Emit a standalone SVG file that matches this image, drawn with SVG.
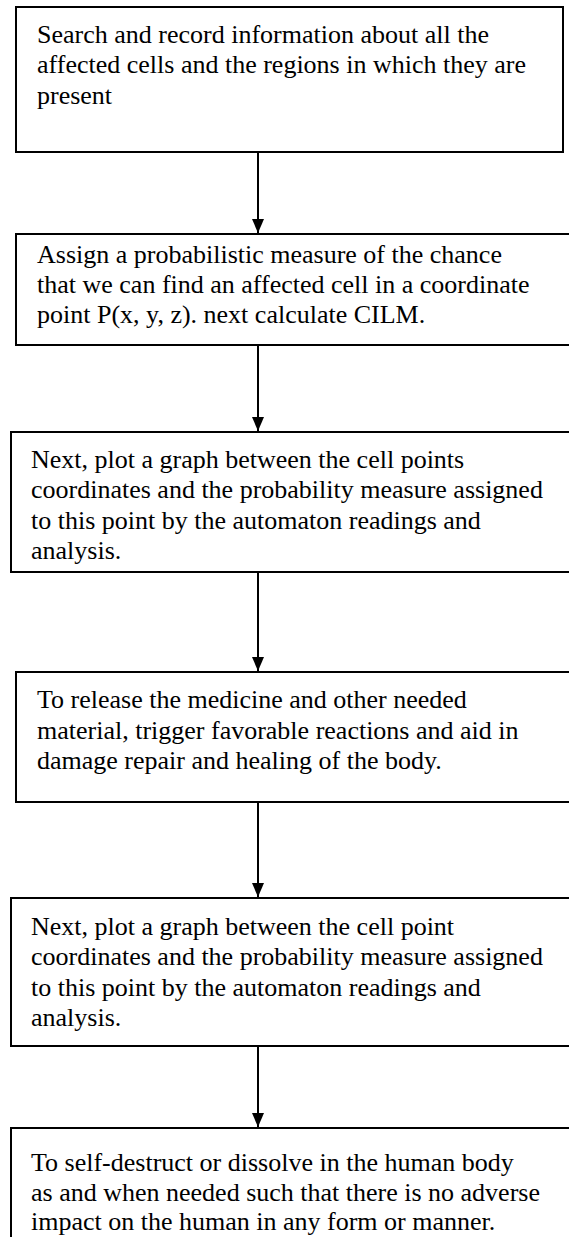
<svg xmlns="http://www.w3.org/2000/svg" width="569" height="1237" viewBox="0 0 569 1237">
<defs>
<style>
.box{fill:#fff;stroke:#000;stroke-width:2}
.t{font-family:'Liberation Serif','Tinos','DejaVu Serif',serif;font-size:26px;fill:#000}
.c{stroke:#000;stroke-width:2;fill:none}
</style>
<marker id="ah" markerWidth="14" markerHeight="12" refX="14" refY="6" orient="auto" markerUnits="userSpaceOnUse" viewBox="0 0 14 12">
<path d="M0,0 L14,6 L0,12 Z" fill="#000"/>
</marker>
</defs>
<rect width="569" height="1237" fill="#fff"/>
<g id="connectors">
<line class="c" x1="258" y1="152" x2="258" y2="233" marker-end="url(#ah)"/>
<line class="c" x1="258" y1="345" x2="258" y2="431" marker-end="url(#ah)"/>
<line class="c" x1="258" y1="572" x2="258" y2="671" marker-end="url(#ah)"/>
<line class="c" x1="258" y1="802" x2="258" y2="897" marker-end="url(#ah)"/>
<line class="c" x1="258" y1="1046" x2="258" y2="1127" marker-end="url(#ah)"/>
</g>
<g font-family="Liberation Serif, serif">
<g id="n1">
<rect class="box" x="16" y="7" width="547" height="145"/>
<text class="t" x="37" y="43">Search and record information about all the</text>
<text class="t" x="37" y="73">affected cells and the regions in which they are</text>
<text class="t" x="37" y="104">present</text>
</g>
<g id="n2">
<rect class="box" x="16" y="234" width="560" height="111"/>
<text class="t" x="37" y="263">Assign a probabilistic measure of the chance</text>
<text class="t" x="37" y="293">that we can find an affected cell in a coordinate</text>
<text class="t" x="37" y="323">point P(x, y, z). next calculate CILM.</text>
</g>
<g id="n3">
<rect class="box" x="11" y="432" width="565" height="140"/>
<text class="t" x="31" y="468">Next, plot a graph between the cell points</text>
<text class="t" x="31" y="498">coordinates and the probability measure assigned</text>
<text class="t" x="31" y="529">to this point by the automaton readings and</text>
<text class="t" x="31" y="559">analysis.</text>
</g>
<g id="n4">
<rect class="box" x="16" y="672" width="560" height="130"/>
<text class="t" x="37" y="708">To release the medicine and other needed</text>
<text class="t" x="37" y="739">material, trigger favorable reactions and aid in</text>
<text class="t" x="37" y="769">damage repair and healing of the body.</text>
</g>
<g id="n5">
<rect class="box" x="11" y="898" width="565" height="148"/>
<text class="t" x="31" y="935">Next, plot a graph between the cell point</text>
<text class="t" x="31" y="965">coordinates and the probability measure assigned</text>
<text class="t" x="31" y="996">to this point by the automaton readings and</text>
<text class="t" x="31" y="1026">analysis.</text>
</g>
<g id="n6">
<rect class="box" x="11" y="1128" width="565" height="130"/>
<text class="t" x="31" y="1171">To self-destruct or dissolve in the human body</text>
<text class="t" x="31" y="1201">as and when needed such that there is no adverse</text>
<text class="t" x="31" y="1230">impact on the human in any form or manner.</text>
</g>
</g>
</svg>
